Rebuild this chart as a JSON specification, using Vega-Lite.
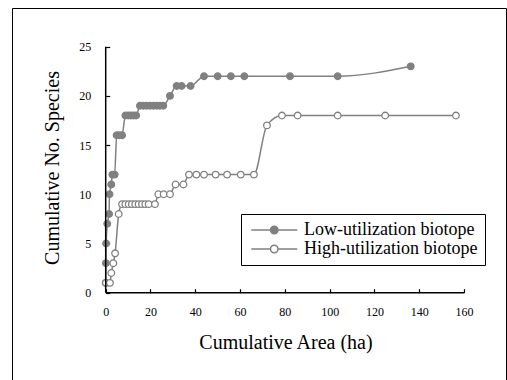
{
  "$schema": "https://vega.github.io/schema/vega-lite/v6.json",
  "width": 494,
  "height": 380,
  "autosize": {"type": "none"},
  "padding": {"left": 12, "top": 8, "right": 1, "bottom": 0},
  "background": "white",
  "config": {
    "view": {"stroke": "black", "strokeWidth": 1},
    "font": "Liberation Serif",
    "axisX": {
      "offset": -95.3,
      "domain": false,
      "grid": false,
      "tickSize": -4,
      "tickColor": "black",
      "tickWidth": 1.2,
      "labelFont": "Liberation Serif",
      "labelFontSize": 12,
      "labelColor": "black",
      "labelPadding": 18,
      "titleFont": "Liberation Serif",
      "titleFontSize": 20,
      "titleFontWeight": "normal",
      "titleColor": "black",
      "titleX": 273.5,
      "titleY": 50,
      "titleBaseline": "middle",
      "titleAlign": "center"
    },
    "axisY": {
      "offset": -93.7,
      "domain": false,
      "grid": false,
      "tickSize": -4,
      "tickColor": "black",
      "tickWidth": 1.2,
      "labelFont": "Liberation Serif",
      "labelFontSize": 12,
      "labelColor": "black",
      "labelPadding": 19,
      "titleFont": "Liberation Serif",
      "titleFontSize": 20,
      "titleFontWeight": "normal",
      "titleColor": "black",
      "titleX": -52.7,
      "titleY": 159.5,
      "titleBaseline": "middle",
      "titleAlign": "center",
      "titleAngle": -90
    }
  },
  "datasets": {
    "curves": [
      {"series": "Low-utilization biotope", "area": 0.0, "species": 1},
      {"series": "Low-utilization biotope", "area": 0.1, "species": 3},
      {"series": "Low-utilization biotope", "area": 0.2, "species": 5},
      {"series": "Low-utilization biotope", "area": 0.7, "species": 7},
      {"series": "Low-utilization biotope", "area": 1.5, "species": 8},
      {"series": "Low-utilization biotope", "area": 1.7, "species": 10},
      {"series": "Low-utilization biotope", "area": 2.5, "species": 11},
      {"series": "Low-utilization biotope", "area": 3.0, "species": 12},
      {"series": "Low-utilization biotope", "area": 4.0, "species": 12},
      {"series": "Low-utilization biotope", "area": 4.9, "species": 16},
      {"series": "Low-utilization biotope", "area": 6.1, "species": 16},
      {"series": "Low-utilization biotope", "area": 7.3, "species": 16},
      {"series": "Low-utilization biotope", "area": 8.8, "species": 18},
      {"series": "Low-utilization biotope", "area": 10.1, "species": 18},
      {"series": "Low-utilization biotope", "area": 11.3, "species": 18},
      {"series": "Low-utilization biotope", "area": 12.5, "species": 18},
      {"series": "Low-utilization biotope", "area": 13.6, "species": 18},
      {"series": "Low-utilization biotope", "area": 15.3, "species": 19},
      {"series": "Low-utilization biotope", "area": 16.8, "species": 19},
      {"series": "Low-utilization biotope", "area": 18.3, "species": 19},
      {"series": "Low-utilization biotope", "area": 19.8, "species": 19},
      {"series": "Low-utilization biotope", "area": 21.3, "species": 19},
      {"series": "Low-utilization biotope", "area": 22.8, "species": 19},
      {"series": "Low-utilization biotope", "area": 24.2, "species": 19},
      {"series": "Low-utilization biotope", "area": 25.7, "species": 19},
      {"series": "Low-utilization biotope", "area": 28.7, "species": 20},
      {"series": "Low-utilization biotope", "area": 31.7, "species": 21},
      {"series": "Low-utilization biotope", "area": 33.9, "species": 21},
      {"series": "Low-utilization biotope", "area": 37.9, "species": 21},
      {"series": "Low-utilization biotope", "area": 43.9, "species": 22},
      {"series": "Low-utilization biotope", "area": 50.0, "species": 22},
      {"series": "Low-utilization biotope", "area": 55.9, "species": 22},
      {"series": "Low-utilization biotope", "area": 61.9, "species": 22},
      {"series": "Low-utilization biotope", "area": 82.3, "species": 22},
      {"series": "Low-utilization biotope", "area": 103.6, "species": 22},
      {"series": "Low-utilization biotope", "area": 136.2, "species": 23},
      {"series": "High-utilization biotope", "area": 0.1, "species": 1},
      {"series": "High-utilization biotope", "area": 1.9, "species": 1},
      {"series": "High-utilization biotope", "area": 2.5, "species": 2},
      {"series": "High-utilization biotope", "area": 3.4, "species": 3},
      {"series": "High-utilization biotope", "area": 4.2, "species": 4},
      {"series": "High-utilization biotope", "area": 5.8, "species": 8},
      {"series": "High-utilization biotope", "area": 7.3, "species": 9},
      {"series": "High-utilization biotope", "area": 8.8, "species": 9},
      {"series": "High-utilization biotope", "area": 10.3, "species": 9},
      {"series": "High-utilization biotope", "area": 11.7, "species": 9},
      {"series": "High-utilization biotope", "area": 13.2, "species": 9},
      {"series": "High-utilization biotope", "area": 14.7, "species": 9},
      {"series": "High-utilization biotope", "area": 16.2, "species": 9},
      {"series": "High-utilization biotope", "area": 17.7, "species": 9},
      {"series": "High-utilization biotope", "area": 19.2, "species": 9},
      {"series": "High-utilization biotope", "area": 22.0, "species": 9},
      {"series": "High-utilization biotope", "area": 23.5, "species": 10},
      {"series": "High-utilization biotope", "area": 25.9, "species": 10},
      {"series": "High-utilization biotope", "area": 28.7, "species": 10},
      {"series": "High-utilization biotope", "area": 31.2, "species": 11},
      {"series": "High-utilization biotope", "area": 34.7, "species": 11},
      {"series": "High-utilization biotope", "area": 37.2, "species": 12},
      {"series": "High-utilization biotope", "area": 40.5, "species": 12},
      {"series": "High-utilization biotope", "area": 43.9, "species": 12},
      {"series": "High-utilization biotope", "area": 49.1, "species": 12},
      {"series": "High-utilization biotope", "area": 54.2, "species": 12},
      {"series": "High-utilization biotope", "area": 60.3, "species": 12},
      {"series": "High-utilization biotope", "area": 66.2, "species": 12},
      {"series": "High-utilization biotope", "area": 72.0, "species": 17},
      {"series": "High-utilization biotope", "area": 78.7, "species": 18},
      {"series": "High-utilization biotope", "area": 85.7, "species": 18},
      {"series": "High-utilization biotope", "area": 103.6, "species": 18},
      {"series": "High-utilization biotope", "area": 124.8, "species": 18},
      {"series": "High-utilization biotope", "area": 156.4, "species": 18}
    ],
    "axisline": [{"k": 1}]
  },
  "layer": [
    {
      "data": {"name": "curves"},
      "mark": {"type": "line", "color": "#808080", "strokeWidth": 1.5, "interpolate": "monotone"},
      "encoding": {
        "x": {
          "field": "area", "type": "quantitative",
          "scale": {"domain": [-41.84, 178.75], "nice": false, "zero": false},
          "title": "Cumulative Area (ha)",
          "axis": {"values": [0, 20, 40, 60, 80, 100, 120, 140, 160], "labelFont": "Liberation Serif"}
        },
        "y": {
          "field": "species", "type": "quantitative",
          "scale": {"domain": [-9.685, 28.93], "nice": false, "zero": false},
          "title": "Cumulative No. Species",
          "axis": {"values": [0, 5, 10, 15, 20, 25], "labelFont": "Liberation Serif"}
        },
        "detail": {"field": "series"}
      }
    },
    {
      "data": {"name": "curves"},
      "mark": {"type": "point", "shape": "circle", "size": 44, "filled": true, "stroke": "#808080", "strokeWidth": 1.3, "opacity": 1},
      "encoding": {
        "x": {"field": "area", "type": "quantitative", "title": "Cumulative Area (ha)",
          "axis": {"values": [0, 20, 40, 60, 80, 100, 120, 140, 160], "labelFont": "Liberation Serif"}},
        "y": {"field": "species", "type": "quantitative", "title": "Cumulative No. Species",
          "axis": {"values": [0, 5, 10, 15, 20, 25], "labelFont": "Liberation Serif"}},
        "fill": {
          "field": "series", "type": "nominal",
          "scale": {"domain": ["Low-utilization biotope", "High-utilization biotope"], "range": ["#808080", "#ffffff"]},
          "legend": {
            "title": null,
            "orient": "none",
            "legendX": 229,
            "legendY": 206,
            "direction": "vertical",
            "padding": 7,
            "strokeColor": "black",
            "fillColor": "white",
            "symbolType": "M-1.15,0L2.7,0M4.2,0L8.05,0M4.2,0A0.75,0.75,0,1,1,2.7,0A0.75,0.75,0,1,1,4.2,0Z",
            "symbolSize": 100,
            "symbolStrokeColor": "#808080",
            "symbolStrokeWidth": 1.5,
            "symbolOpacity": 1,
            "labelFont": "Liberation Serif",
            "labelFontSize": 18,
            "labelColor": "black",
            "labelOffset": 38,
            "labelLimit": 400,
            "rowPadding": 1
          }
        }
      }
    },
    {
      "data": {"name": "axisline"},
      "mark": {"type": "rule", "color": "black", "strokeWidth": 1.5},
      "encoding": {
        "x": {"datum": 0, "type": "quantitative", "title": "Cumulative Area (ha)",
          "axis": {"values": [0, 20, 40, 60, 80, 100, 120, 140, 160], "labelFont": "Liberation Serif"}},
        "x2": {"datum": 160},
        "y": {"datum": 0, "type": "quantitative", "title": "Cumulative No. Species",
          "axis": {"values": [0, 5, 10, 15, 20, 25], "labelFont": "Liberation Serif"}}
      }
    },
    {
      "data": {"name": "axisline"},
      "mark": {"type": "rule", "color": "black", "strokeWidth": 1.5},
      "encoding": {
        "x": {"datum": 0, "type": "quantitative", "title": "Cumulative Area (ha)",
          "axis": {"values": [0, 20, 40, 60, 80, 100, 120, 140, 160], "labelFont": "Liberation Serif"}},
        "y": {"datum": 0, "type": "quantitative", "title": "Cumulative No. Species",
          "axis": {"values": [0, 5, 10, 15, 20, 25], "labelFont": "Liberation Serif"}},
        "y2": {"datum": 25}
      }
    }
  ]
}
